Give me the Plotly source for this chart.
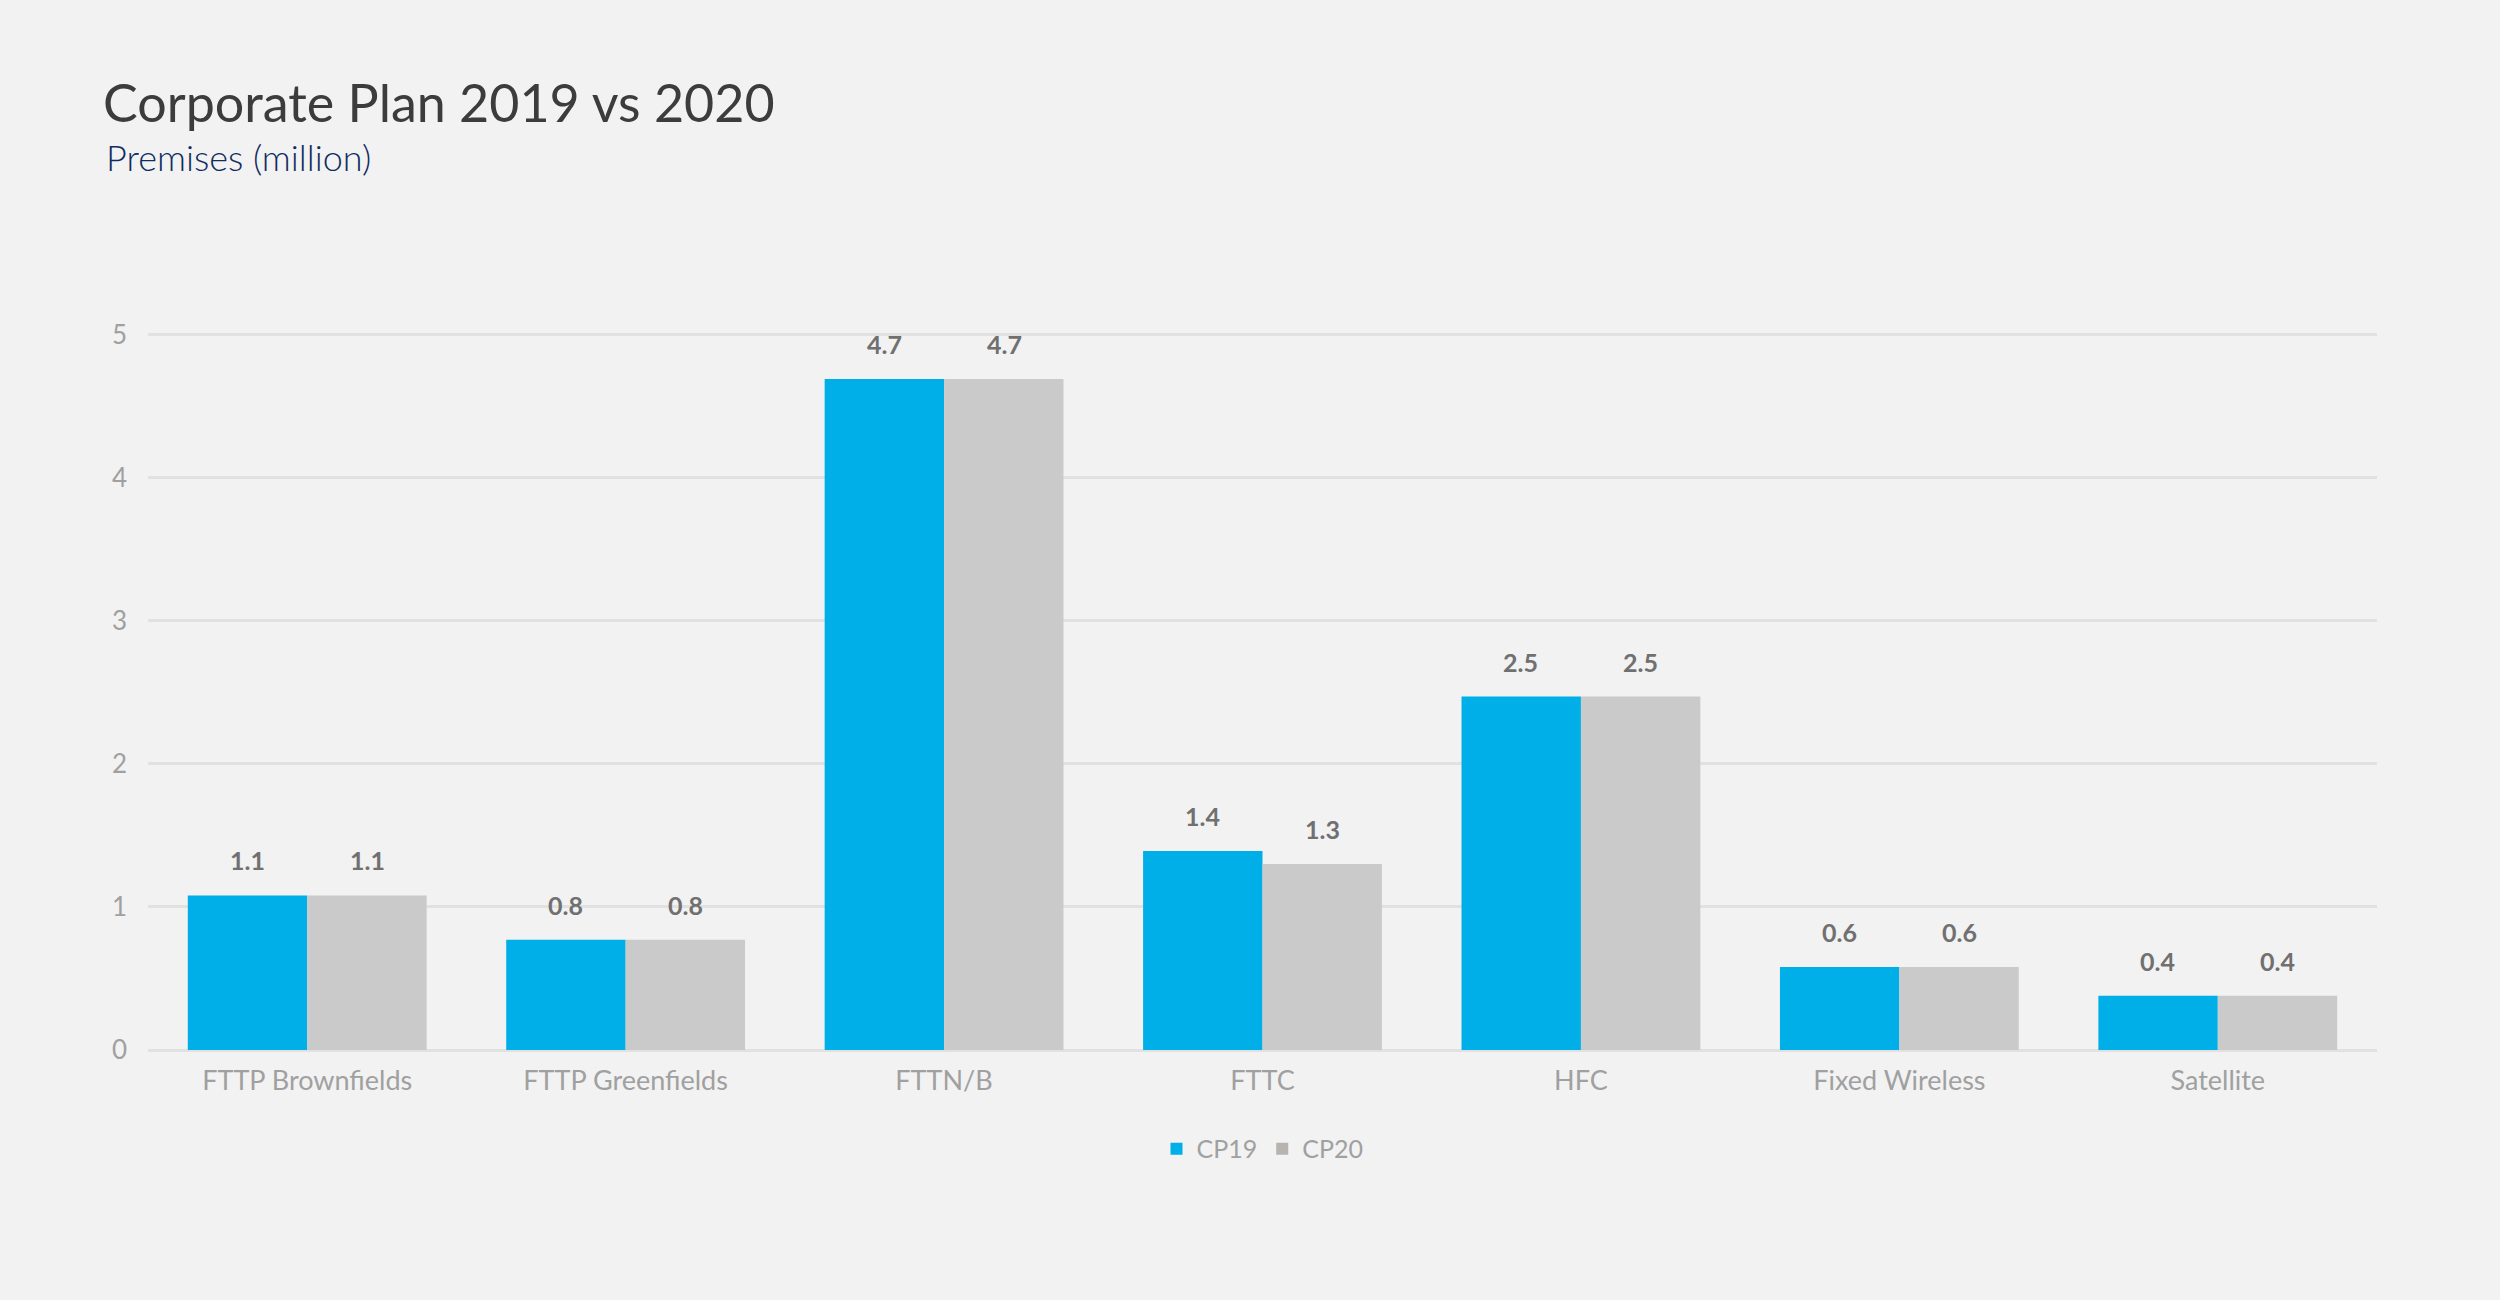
import plotly.graph_objects as go

categories = ["FTTP Brownfields", "FTTP Greenfields", "FTTN/B", "FTTC", "HFC", "Fixed Wireless", "Satellite"]
cp19 = [1.08, 0.77, 4.69, 1.39, 2.47, 0.58, 0.38]
cp20 = [1.08, 0.77, 4.69, 1.30, 2.47, 0.58, 0.38]
series_names = ["CP19", "CP20"]
y_ticks = [0, 1, 2, 3, 4, 5]

BG = "#f2f2f2"
BLUE = "#00aee8"
GREY = "#cacaca"
GREY_LEGEND = "#b7b3af"
LABEL = "#707070"
TICK = "#a0a0a0"
GRID = "#e1e1e1"
FONT = "Lato"

fig = go.Figure()
for name, vals, col in [(series_names[0], cp19, BLUE), (series_names[1], cp20, GREY)]:
    fig.add_trace(go.Bar(
        x=categories, y=vals, name=name, showlegend=False,
        marker=dict(color=col, line=dict(width=0)),
        hoverinfo="x+y",
    ))

# legend entries
for name, col in [(series_names[0], BLUE), (series_names[1], GREY_LEGEND)]:
    fig.add_trace(go.Scatter(
        x=[None], y=[None], name=name, mode="markers",
        marker=dict(symbol="square", size=12, color=col),
        showlegend=True, hoverinfo="skip",
    ))

annotations = []
for vals, shift in [(cp19, -60), (cp20, 60)]:
    for c, v in zip(categories, vals):
        annotations.append(dict(
            x=c, y=v, xref="x", yref="y", text=f"{v:.1f}", showarrow=False,
            xshift=shift, yshift=18, yanchor="bottom",
            font=dict(family=FONT, size=25, color=LABEL, weight=700),
        ))

annotations.append(dict(
    x=(104 - 148) / 2229, y=(1050 - 157) / 744, xref="paper", yref="paper",
    xanchor="left", yanchor="middle", showarrow=False,
    text="Premises (million)",
    font=dict(family=FONT, size=36, color="#0f2c60", weight=300),
))

fig.update_layout(
    width=2500, height=1300,
    paper_bgcolor=BG, plot_bgcolor=BG,
    margin=dict(l=148, r=123, t=306, b=250),
    barmode="group", bargap=0.25, bargroupgap=0,
    title=dict(
        text="Corporate Plan 2019 vs 2020",
        x=103 / 2500, xanchor="left", y=1 - 104 / 1300, yanchor="middle",
        font=dict(family=FONT, size=52, color="#3c3c3c", weight=400),
    ),
    font=dict(family=FONT, color=TICK),
    legend=dict(
        orientation="h", x=0.5, xanchor="center", y=-0.133, yanchor="middle",
        font=dict(family=FONT, size=25, color=TICK),
        bgcolor="rgba(0,0,0,0)", itemwidth=30, traceorder="normal",
    ),
    annotations=annotations,
    showlegend=True,
)

fig.update_xaxes(
    showgrid=False, showline=False, ticks="",
    tickfont=dict(family=FONT, size=27, color=TICK),
    ticklabelstandoff=12,
)
fig.update_yaxes(
    range=[0, 5.2], tickvals=y_ticks, ticktext=[str(t) for t in y_ticks],
    showgrid=True, gridcolor=GRID, gridwidth=3,
    zeroline=True, zerolinecolor=GRID, zerolinewidth=3,
    showline=False, ticks="",
    tickfont=dict(family=FONT, size=26, color=TICK),
    ticklabelstandoff=20,
)

fig.write_html("out.html", config={"displayModeBar": False},
               post_script="document.body.style.margin='0';")
